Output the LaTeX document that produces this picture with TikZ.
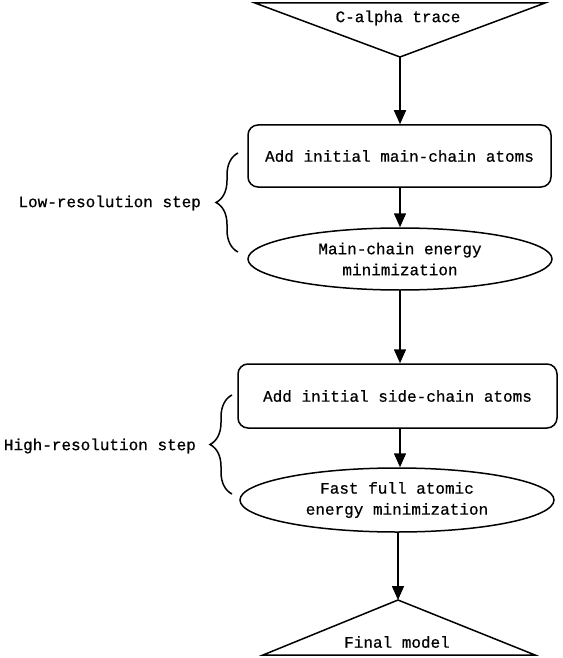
\documentclass[tikz,border=0pt]{standalone}
\usepackage{fontspec}
\newfontfamily\flowfont{Liberation Mono}[FakeBold = 0.6]
\usetikzlibrary{shapes.geometric,arrows.meta,decorations.pathreplacing}
\begin{document}
\begin{tikzpicture}[x = 1pt, y = -1pt,
                    line width = 1.5pt,
                    font = \flowfont\fontsize{16}{21}\selectfont,
                    sbox/.style = {shape = rectangle,
                                   rounded corners = 10pt,
                                   inner sep = 0pt,
                                   draw},
                    soval/.style = {shape = ellipse,
                                    inner sep = 0pt,
                                    align = center,
                                    draw},
                    flow/.style = {-{Triangle[length = 14pt, width = 12pt]}},
                    sbrace/.style = {decorate,
                                     decoration = {brace, amplitude = 22pt}}]
		\useasboundingbox (0,0) rectangle (562,658);
		% start and end triangles
		\draw (255,3) -- (545,3) -- (400,57) -- cycle;
		\node (trace) at (398,18) {C-alpha trace};
		\coordinate (tracetip) at (400,57);
		\draw (398,600) -- (535,655) -- (263,655) -- cycle;
		\node (final) at (397,642) {Final model};
		\coordinate (finaltip) at (398,600);
		% steps
		\node[sbox, minimum width = 303pt, minimum height = 62pt] (main) at (399.5,156) {Add initial main-chain atoms};
		\node[soval, minimum width = 304pt, minimum height = 62pt] (mainmin) at (400,259) {Main-chain energy\\minimization};
		\node[sbox, minimum width = 319pt, minimum height = 64pt] (side) at (397.5,396) {Add initial side-chain atoms};
		\node[soval, minimum width = 314pt, minimum height = 64pt] (fullmin) at (397,500) {Fast full atomic\\energy minimization};
		\draw[flow] (tracetip) -- (main.north -| tracetip);
		\draw[flow] (main.south -| tracetip) -- (mainmin.north -| tracetip);
		\draw[flow] (mainmin.south -| tracetip) -- (side.north -| tracetip);
		\draw[flow] (side.south -| tracetip) -- (fullmin.north -| tracetip);
		\draw[flow] (fullmin.south -| finaltip) -- (finaltip);
		% braces
		\draw[sbrace] (238,252) -- (238,153);
		\node[anchor = east] (low) at (205,203) {Low-resolution step};
		\draw[sbrace] (232,494) -- (232,395);
		\node[anchor = east] (high) at (200,446) {High-resolution step};
	\end{tikzpicture}
\end{document}
